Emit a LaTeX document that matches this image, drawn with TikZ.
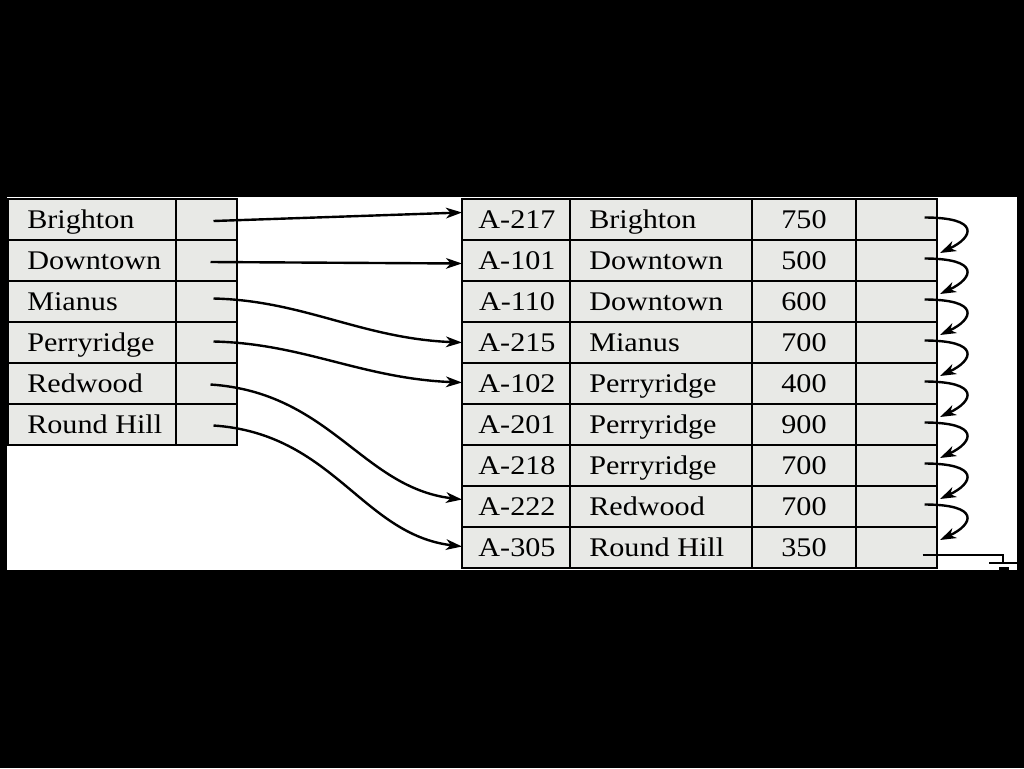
\documentclass[tikz,border=0pt]{standalone}
\usepackage{fontspec}
\setmainfont{Liberation Serif}[FakeStretch=1.12]
\usetikzlibrary{arrows.meta,calc}
\definecolor{cellgray}{RGB}{232,233,230}
\begin{document}
\begin{tikzpicture}[x=0.75pt,y=-0.75pt,
  cell/.style={draw=black, line width=2pt, fill=cellgray, inner sep=0pt, outer sep=0pt,
    anchor=north west, minimum height=41*0.75pt},
  txt/.style={font=\fontsize{20.2pt}{22pt}\selectfont, inner sep=0pt},
  ptr/.style={line width=1.8pt, -{Stealth[length=12pt,width=8pt,inset=3.5pt]}},
  gnd/.style={line width=1.8pt}]
\useasboundingbox (0,0) rectangle (1024,768);
\fill[black] (0,0) rectangle (1024,768);
\fill[white] (7,197) rectangle (1017,570);
% left index table
\foreach \n [count=\i] in {Brighton,Downtown,Mianus,Perryridge,Redwood,Round Hill} {
  \pgfmathsetmacro\yy{199+41*(\i-1)}
  \node[cell, minimum width=168*0.75pt] (ln\i) at (8,\yy) {};
  \node[cell, minimum width=61*0.75pt] (lp\i) at (176,\yy) {};
  \node[txt, anchor=base west] (lt\i) at (27,\yy+29) {\n};
}
% right data table
\foreach \k/\b/\v [count=\i] in {A-217/Brighton/750,A-101/Downtown/500,A-110/Downtown/600,
  A-215/Mianus/700,A-102/Perryridge/400,A-201/Perryridge/900,A-218/Perryridge/700,
  A-222/Redwood/700,A-305/Round Hill/350} {
  \pgfmathsetmacro\yy{199+41*(\i-1)}
  \node[cell, minimum width=108*0.75pt] (rk\i) at (462,\yy) {};
  \node[cell, minimum width=182*0.75pt] (rb\i) at (570,\yy) {};
  \node[cell, minimum width=104*0.75pt] (rv\i) at (752,\yy) {};
  \node[cell, minimum width=81*0.75pt] (rp\i) at (856,\yy) {};
  \node[txt, anchor=base] (tk\i) at (517,\yy+29) {\k};
  \node[txt, anchor=base west] (tb\i) at (589,\yy+29) {\b};
  \node[txt, anchor=base] (tv\i) at (804,\yy+29) {\v};
}
% index pointers
\draw[ptr] ($(lp1.center)+(7,1.5)$) -- ($(rk1.west)+(0,-7)$);
\draw[ptr] ($(lp2.center)+(4,1.5)$) -- ($(rk2.west)+(0,3)$);
\draw[ptr] ($(lp3.center)+(7,-3)$) .. controls +(90,2) and +(-100,-4) .. ($(rk4.west)+(0,0)$);
\draw[ptr] ($(lp4.center)+(7,-1)$) .. controls +(90,2) and +(-100,-4) .. ($(rk5.west)+(0,-1)$);
\draw[ptr] ($(lp5.center)+(4,1)$) .. controls +(120,8) and +(-100,-12) .. ($(rk8.west)+(0,-7)$);
\draw[ptr] ($(lp6.center)+(7,1)$) .. controls +(120,8) and +(-100,-12) .. ($(rk9.west)+(0,-1)$);
% chain pointers
\foreach \i [evaluate=\i as \j using int(\i+1)] in {1,...,8} {
  \draw[ptr] ($(rp\i.center)+(28,-2)$) .. controls +(56,0) and +(34,-16) .. ($(rp\j.north east)+(3,13)$);
}
% null pointer (ground)
\coordinate (g0) at ($(rp9.center)+(26,7.5)$);
\coordinate (g1) at (1003,563);
\draw[gnd] (g0) -| (g1);
\draw[gnd] (989,563) -- (1017,563);
\draw[line width=2.4pt] (999,569) -- (1009,569);
\end{tikzpicture}
\end{document}
